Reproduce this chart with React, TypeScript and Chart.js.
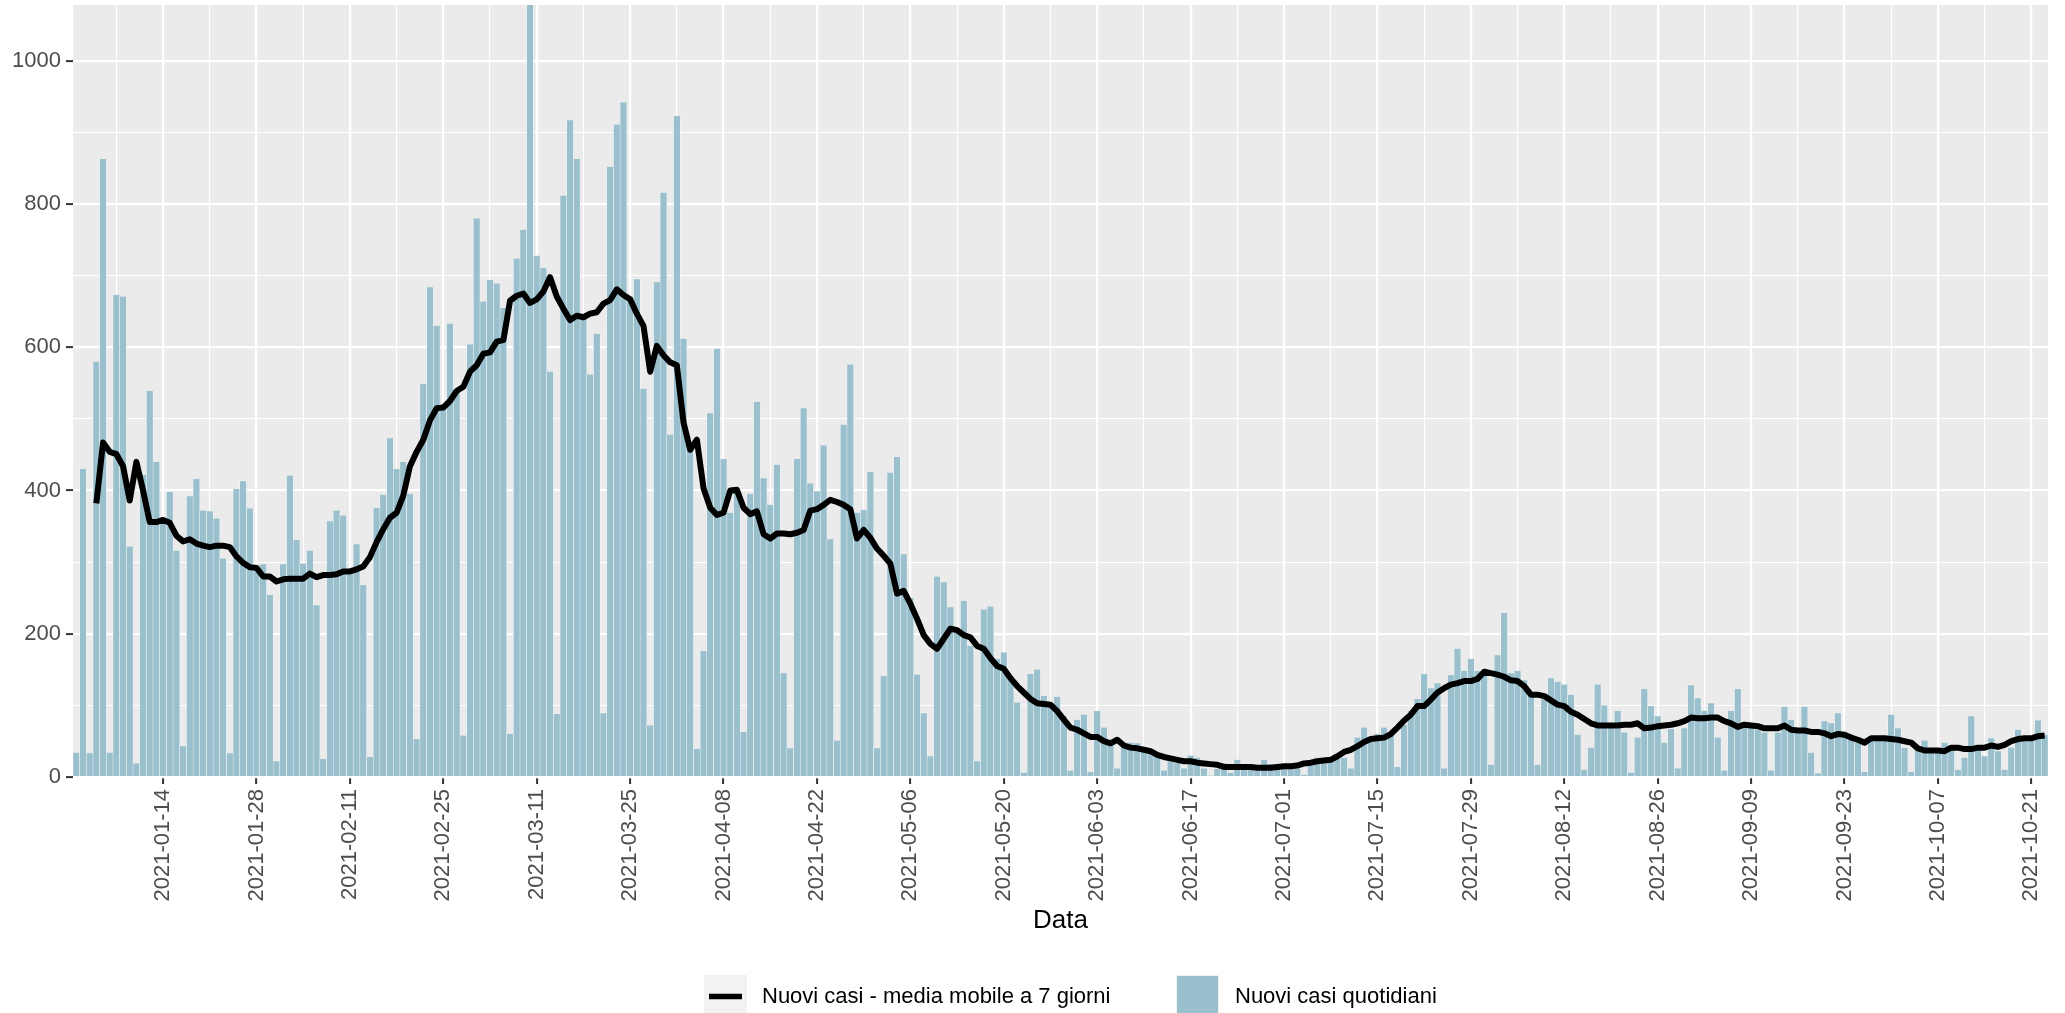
import React, { useEffect, useRef } from "react";
import { Chart, registerables } from "chart.js";

Chart.register(...registerables);

// ---------- data ----------
const START_DATE = "2021-01-01";

const TICK_LABELS = [
  "2021-01-14", "2021-01-28", "2021-02-11", "2021-02-25", "2021-03-11",
  "2021-03-25", "2021-04-08", "2021-04-22", "2021-05-06", "2021-05-20",
  "2021-06-03", "2021-06-17", "2021-07-01", "2021-07-15", "2021-07-29",
  "2021-08-12", "2021-08-26", "2021-09-09", "2021-09-23", "2021-10-07",
  "2021-10-21",
];

const Y_TICKS = [0, 200, 400, 600, 800, 1000];

// Nuovi casi quotidiani (one value per day from 2021-01-01)
const DAILY_CASES = [
  34, 430, 33, 580, 863, 34, 673, 671, 322, 19,
  422, 539, 440, 355, 398, 316, 43, 392, 416, 372,
  371, 361, 305, 33, 402, 413, 375, 290, 297, 254,
  22, 297, 421, 331, 298, 316, 240, 25, 357, 372,
  365, 285, 325, 268, 28, 376, 394, 473, 430, 440,
  395, 53, 549, 684, 630, 520, 633, 539, 58, 604,
  780, 664, 694, 689, 655, 60, 724, 764, 1080, 728,
  711, 566, 88, 812, 917, 863, 642, 562, 619, 89,
  852, 911, 942, 671, 695, 542, 72, 691, 816, 478,
  923, 612, 461, 39, 176, 508, 598, 444, 369, 400,
  63, 395, 524, 417, 380, 436, 145, 40, 444, 515,
  410, 399, 463, 332, 51, 492, 576, 369, 373, 426,
  40, 141, 425, 447, 311, 250, 143, 89, 29, 280,
  272, 237, 207, 246, 183, 22, 234, 238, 165, 174,
  136, 104, 6, 144, 150, 113, 103, 112, 85, 9,
  80, 87, 7, 92, 69, 47, 12, 48, 48, 47,
  38, 34, 29, 9, 22, 20, 12, 30, 27, 12,
  2, 11, 19, 6, 24, 17, 17, 14, 24, 18,
  18, 18, 18, 11, 3, 22, 27, 27, 27, 29,
  27, 12, 55, 69, 51, 60, 69, 60, 14, 73,
  92, 109, 144, 124, 131, 12, 142, 179, 148, 165,
  148, 145, 17, 170, 229, 145, 148, 135, 117, 17,
  109, 138, 133, 129, 115, 59, 10, 41, 129, 100,
  73, 92, 62, 6, 55, 123, 99, 85, 48, 67,
  12, 68, 128, 110, 92, 103, 55, 9, 92, 123,
  71, 72, 66, 62, 9, 62, 98, 80, 64, 98,
  34, 5, 78, 75, 89, 62, 57, 52, 7, 52,
  57, 52, 87, 68, 41, 7, 38, 51, 38, 36,
  48, 38, 10, 27, 85, 38, 29, 54, 36, 10,
  41, 66, 57, 52, 79, 59,
];

// Nuovi casi - media mobile a 7 giorni
const MOVING_AVG = [
  null, null, null, 382, 467, 454, 451, 434, 386, 440,
  400, 356, 356, 359, 355, 337, 329, 332, 326, 323,
  321, 323, 323, 321, 308, 299, 293, 292, 280, 280,
  273, 276, 277, 277, 277, 284, 279, 282, 282, 283,
  287, 287, 290, 294, 307, 328, 346, 362, 369, 393,
  434, 454, 471, 498, 515, 516, 525, 539, 545, 566,
  575, 591, 593, 608, 610, 665, 672, 675, 662, 667,
  678, 698, 671, 654, 638, 644, 642, 647, 649, 661,
  666, 681, 673, 667, 647, 630, 566, 602, 589, 579,
  575, 495, 457, 471, 403, 376, 366, 369, 400, 401,
  376, 367, 371, 339, 333, 340, 340, 339, 341, 345,
  372, 374, 380, 387, 384, 380, 374, 333, 345, 334,
  319, 309, 298, 256, 260, 242, 221, 198, 186, 179,
  193, 207, 205, 198, 195, 183, 179, 166, 155, 151,
  138, 127, 118, 109, 103, 102, 101, 92, 80, 69,
  66, 61, 56, 56, 50, 47, 52, 44, 41, 40,
  38, 36, 31, 28, 26, 24, 22, 22, 20, 19,
  18, 17, 14, 14, 14, 14, 14, 13, 13, 13,
  14, 15, 15, 16, 19, 20, 22, 23, 24, 29,
  35, 38, 43, 49, 53, 54, 55, 60, 69, 79,
  87, 99, 99, 108, 118, 124, 129, 131, 134, 134,
  137, 147, 145, 143, 140, 135, 134, 127, 115, 115,
  113, 107, 101, 99, 91, 87, 81, 75, 72, 72,
  72, 72, 73, 73, 75, 68, 69, 71, 72, 73,
  75, 78, 83, 82, 82, 83, 83, 78, 75, 70,
  73, 72, 71, 68, 68, 68, 72, 66, 65, 65,
  63, 63, 61, 57, 60, 59, 55, 52, 48, 54,
  54, 54, 53, 52, 50, 48, 40, 37, 37, 37,
  36, 41, 41, 39, 39, 41, 41, 44, 42, 45,
  50, 53, 54, 54, 57, 58,
];

const SERIES_LINE = "Nuovi casi - media mobile a 7 giorni";
const SERIES_BARS = "Nuovi casi quotidiani";
const X_TITLE = "Data";

// ---------- derived categories (calendar days) ----------
const DATES: string[] = (() => {
  const out: string[] = [];
  const d0 = new Date(START_DATE + "T00:00:00Z");
  for (let i = 0; i < DAILY_CASES.length; i++) {
    const d = new Date(d0.getTime() + i * 86400000);
    out.push(d.toISOString().slice(0, 10));
  }
  return out;
})();

const MAJOR_IDX = new Set<number>(TICK_LABELS.map((l) => DATES.indexOf(l)).filter((i) => i >= 0));
const MINOR_IDX = new Set<number>(
  Array.from(MAJOR_IDX).map((i) => i - 7).filter((i) => i >= 0)
);

// ---------- styles ----------
const W = 2065;
const H = 1013;
const FONT = '"Liberation Sans", Arial, Helvetica, sans-serif';
const PANEL_BG = "#EBEBEB";
const BAR_COLOR = "#9AC0CD";
const AXIS_TEXT = "#4D4D4D";
const TICK_COLOR = "#333333";

const backgroundPlugin = {
  id: "ggBackground",
  beforeDraw(chart: any) {
    const { ctx, chartArea } = chart;
    ctx.save();
    ctx.fillStyle = "#FFFFFF";
    ctx.fillRect(0, 0, chart.width, chart.height);
    ctx.fillStyle = PANEL_BG;
    ctx.fillRect(chartArea.left, chartArea.top, chartArea.right - chartArea.left, chartArea.bottom - chartArea.top);
    ctx.restore();
  },
};

const annotationPlugin = {
  id: "ggAnnotations",
  afterDraw(chart: any) {
    const { ctx, chartArea } = chart;
    ctx.save();
    // axis title
    ctx.fillStyle = "#000000";
    ctx.font = `26px ${FONT}`;
    ctx.textAlign = "center";
    ctx.textBaseline = "middle";
    ctx.fillText(X_TITLE, (chartArea.left + chartArea.right) / 2, 921);

    // legend
    const keyTop = 975;
    const keySize = 43;
    const midY = keyTop + keySize / 2;
    ctx.font = `22px ${FONT}`;
    ctx.textAlign = "left";
    ctx.textBaseline = "middle";

    // key 1: line
    const k1x = 704;
    ctx.fillStyle = "#F2F2F2";
    ctx.fillRect(k1x, keyTop, keySize, keySize);
    ctx.strokeStyle = "#000000";
    ctx.lineWidth = 5.5;
    ctx.lineCap = "butt";
    ctx.beginPath();
    ctx.moveTo(k1x + 5, midY);
    ctx.lineTo(k1x + keySize - 5, midY);
    ctx.stroke();
    ctx.fillStyle = "#000000";
    ctx.fillText(SERIES_LINE, 762, midY);

    // key 2: bars
    const k2x = 1176;
    ctx.fillStyle = "#F2F2F2";
    ctx.fillRect(k2x, keyTop, keySize, keySize);
    ctx.fillStyle = BAR_COLOR;
    ctx.fillRect(k2x + 1, keyTop + 1, keySize - 2, keySize - 2);
    ctx.fillStyle = "#000000";
    ctx.fillText(SERIES_BARS, 1235, midY);
    ctx.restore();
  },
};

export default function App() {
  const canvasRef = useRef<HTMLCanvasElement | null>(null);

  useEffect(() => {
    if (!canvasRef.current) return;
    const chart = new Chart(canvasRef.current, {
      type: "bar",
      data: {
        labels: DATES,
        datasets: [
          {
            type: "line",
            label: SERIES_LINE,
            data: MOVING_AVG as any,
            borderColor: "#000000",
            borderWidth: 6,
            pointRadius: 0,
            pointHoverRadius: 0,
            tension: 0,
            borderJoinStyle: "round",
            borderCapStyle: "butt",
            spanGaps: false,
            order: 0,
          } as any,
          {
            type: "bar",
            label: SERIES_BARS,
            data: DAILY_CASES,
            backgroundColor: BAR_COLOR,
            borderColor: "#FFFFFF",
            borderWidth: { left: 0.5, right: 0.5, top: 0, bottom: 0 },
            borderSkipped: false,
            barPercentage: 1,
            categoryPercentage: 1,
            order: 1,
          } as any,
        ],
      },
      options: {
        responsive: false,
        animation: false,
        layout: { padding: { left: 0, top: 5, right: 17, bottom: 0 } },
        plugins: {
          legend: { display: false },
          tooltip: { enabled: false },
        },
        scales: {
          x: {
            type: "category",
            offset: true,
            border: { display: false },
            grid: {
              offset: false,
              drawTicks: true,
              tickLength: 7,
              tickWidth: 2,
              color: (c: any) =>
                MAJOR_IDX.has(c.index) || MINOR_IDX.has(c.index) ? "#FFFFFF" : "rgba(0,0,0,0)",
              lineWidth: (c: any) => (MAJOR_IDX.has(c.index) ? 2.2 : MINOR_IDX.has(c.index) ? 1.1 : 0),
              tickColor: (c: any) => (MAJOR_IDX.has(c.index) ? TICK_COLOR : "rgba(0,0,0,0)"),
            },
            ticks: {
              autoSkip: false,
              maxRotation: 90,
              minRotation: 90,
              padding: 5,
              color: AXIS_TEXT,
              font: { family: FONT, size: 22 },
              callback: (_v: any, index: number) => (MAJOR_IDX.has(index) ? DATES[index] : ""),
            },
            afterFit: (s: any) => {
              s.height = 236;
              s.paddingLeft = 0;
              s.paddingRight = 0;
            },
          },
          y: {
            type: "linear",
            min: 0,
            max: 1078,
            border: { display: false },
            afterBuildTicks: (s: any) => {
              s.ticks = s.ticks.filter((t: any) => t.value % 100 === 0 && t.value <= 1000);
            },
            grid: {
              color: "#FFFFFF",
              lineWidth: (c: any) => (c.tick && Y_TICKS.includes(c.tick.value) ? 2.2 : 1.1),
              tickLength: 7,
              tickWidth: 2,
              tickColor: (c: any) => (c.tick && Y_TICKS.includes(c.tick.value) ? TICK_COLOR : "rgba(0,0,0,0)"),
            },
            ticks: {
              stepSize: 100,
              padding: 5,
              color: AXIS_TEXT,
              font: { family: FONT, size: 22 },
              callback: (v: any) => (Y_TICKS.includes(Number(v)) ? String(v) : ""),
            },
            afterFit: (s: any) => {
              s.width = 73;
              s.paddingTop = 0;
              s.paddingBottom = 0;
            },
          },
        },
      } as any,
      plugins: [backgroundPlugin, annotationPlugin],
    });
    return () => chart.destroy();
  }, []);

  return (
    <div style={{ position: "absolute", left: 0, top: 0, width: W, height: H, background: "#FFFFFF" }}>
      <canvas ref={canvasRef} width={W} height={H} style={{ width: W, height: H, display: "block" }} />
    </div>
  );
}
